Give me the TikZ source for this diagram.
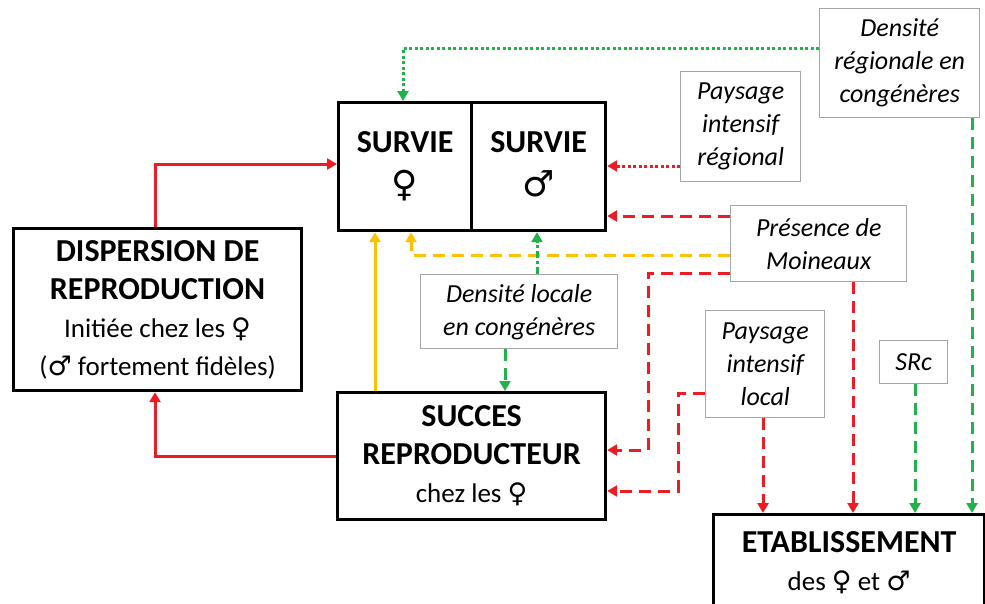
\documentclass[tikz,border=0pt]{standalone}
\usepackage{fontspec}
\setmainfont{Carlito}
\newfontfamily\gsym{DejaVu Sans}
\usetikzlibrary{arrows.meta}
\definecolor{redarr}{HTML}{ED1C24}
\definecolor{yelarr}{HTML}{FFC000}
\definecolor{grnarr}{HTML}{22B24C}
\definecolor{boxgray}{HTML}{A6A6A6}
\newcommand{\fem}{{\gsym ♀}}
\newcommand{\mal}{{\gsym ♂}}
\newcommand{\subline}{\fontsize{27}{38}\selectfont}
\newcommand{\bigsym}[1]{{\fontsize{36}{46}\selectfont\vphantom{\fem\mal}#1}}
\begin{document}
\begin{tikzpicture}[x=1pt,y=-1pt,
    bigbox/.style={draw,line width=3.2pt,align=center,inner sep=0pt,anchor=north west,
      font=\fontsize{32}{38}\selectfont},
    factor/.style={draw=boxgray,line width=1.4pt,align=center,inner sep=0pt,anchor=north west,
      font=\itshape\fontsize{26}{33}\selectfont},
    link/.style={line width=3pt,-{Triangle[length=10pt,width=11pt]}},
    dashline/.style={dash pattern=on 12pt off 7pt},
    dotline/.style={dash pattern=on 3pt off 2.5pt},
    dashdotline/.style={dash pattern=on 7pt off 3pt on 3pt off 3pt}]
    \clip (0,0) rectangle (985,603);
    \useasboundingbox (0,0) rectangle (985,603);
    \node[bigbox,minimum width=133pt,minimum height=128pt] (survf) at (337,101)
        {\textbf{SURVIE}\\[6pt]\bigsym{\fem}};
    \node[bigbox,minimum width=134pt,minimum height=128pt] (survm) at (470,101)
        {\textbf{SURVIE}\\[6pt]\bigsym{\mal}};
    \node[bigbox,minimum width=288pt,minimum height=162pt] (disp) at (12,227)
        {\textbf{DISPERSION DE}\\\textbf{REPRODUCTION}\\{\subline Initiée chez les \fem}\\{\subline(\mal{} fortement fidèles)}};
    \node[bigbox,minimum width=268pt,minimum height=127pt] (succ) at (336,391)
        {\textbf{SUCCES}\\\textbf{REPRODUCTEUR}\\{\subline chez les \fem}};
    \node[bigbox,minimum width=271pt,minimum height=96pt] (etab) at (712,513)
        {\textbf{ETABLISSEMENT}\\{\subline des \fem{} et \mal}};
    \node[factor,minimum width=160pt,minimum height=109pt] (dreg) at (819,8)
        {Densité\\régionale en\\congénères};
    \node[factor,minimum width=120pt,minimum height=110pt] (preg) at (680,71)
        {Paysage\\intensif\\régional};
    \node[factor,minimum width=176pt,minimum height=76pt] (pres) at (730,205)
        {Présence de\\Moineaux};
    \node[factor,minimum width=197pt,minimum height=74pt] (dloc) at (420,274)
        {Densité locale\\en congénères};
    \node[factor,minimum width=119pt,minimum height=107pt] (ploc) at (705,310)
        {Paysage\\intensif\\local};
    \node[factor,minimum width=68pt,minimum height=43pt] (src) at (879,340)
        {SRc};
    \draw[link,redarr] (disp.north -| 155,0) |- (survf.west |- 0,164);
    \draw[link,redarr] (succ.west) -| (disp.south -| 155,0);
    \draw[link,yelarr] (succ.north -| 375,0) -- (survf.south -| 375,0);
    \draw[link,yelarr,dashline] (pres.west |- 0,255) -| (survf.south -| 411,0);
    \draw[link,grnarr,dashdotline] (dloc.north -| 537,0) -- (survm.south -| 537,0);
    \draw[link,grnarr,dashline] (dloc.south -| 505,0) -- (succ.north -| 505,0);
    \draw[link,redarr,dashline] (pres.west |- 0,216) -- (survm.east |- 0,216);
    \draw[link,redarr,dotline] (preg.west |- 0,166) -- (survm.east |- 0,166);
    \draw[link,grnarr,dotline] (dreg.west |- 0,48) -| (survf.north -| 403,0);
    \draw[link,redarr,dashline] (pres.west |- 0,273) -| (648,450) -- (succ.east |- 0,450);
    \draw[link,redarr,dashline] (ploc.west |- 0,393) -| (678,491) -- (succ.east |- 0,491);
    \draw[link,redarr,dashline] (ploc.south -| 763,0) -- (etab.north -| 763,0);
    \draw[link,redarr,dashline] (pres.south -| 853,0) -- (etab.north -| 853,0);
    \draw[link,grnarr,dashline] (src.south -| 915,0) -- (etab.north -| 915,0);
    \draw[link,grnarr,dashline] (dreg.south -| 972,0) -- (etab.north -| 972,0);
\end{tikzpicture}
\end{document}
